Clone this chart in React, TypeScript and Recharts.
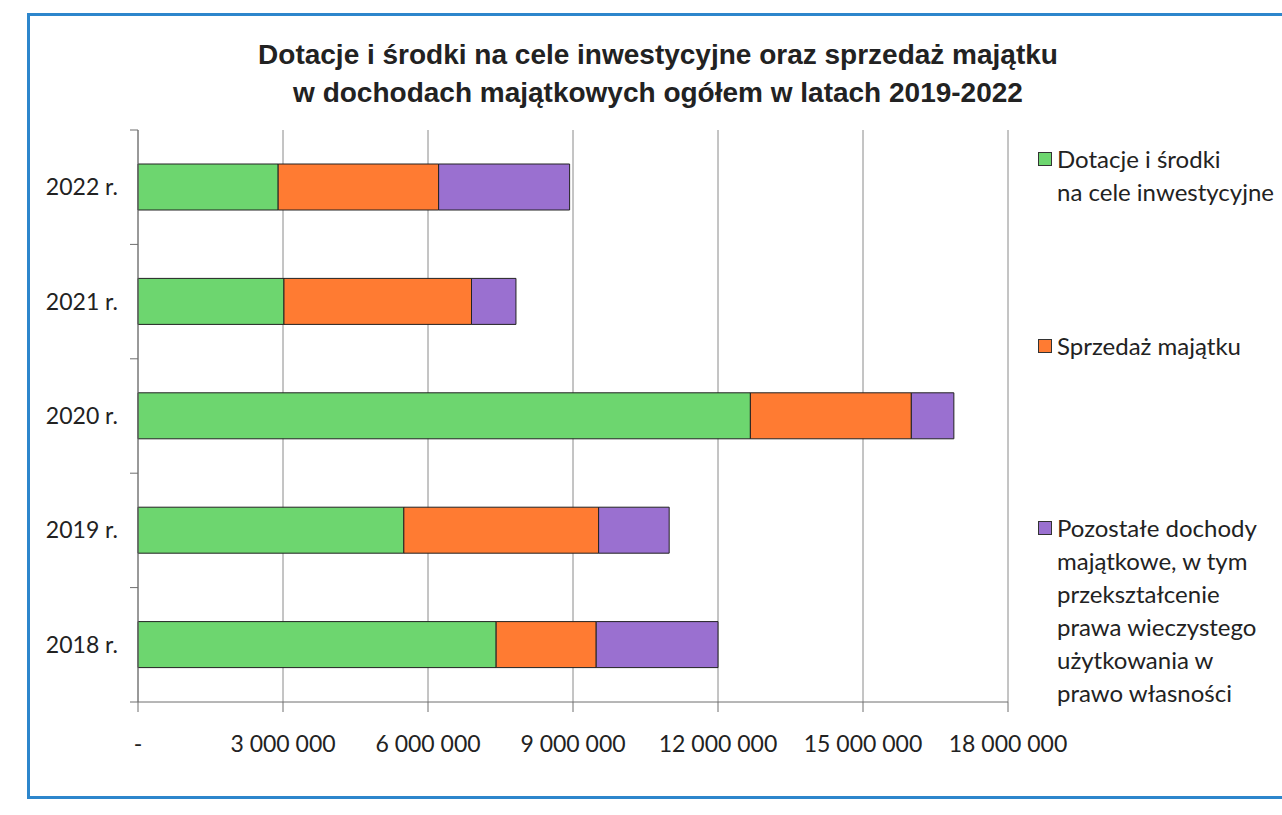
import React from 'react';
import { BarChart, Bar, XAxis, YAxis, CartesianGrid } from 'recharts';

const years = ['2022 r.', '2021 r.', '2020 r.', '2019 r.', '2018 r.'];
const dotacje = [2900000, 3020000, 12670000, 5500000, 7410000];
const sprzedaz = [3320000, 3880000, 3330000, 4030000, 2070000];
const pozostale = [2710000, 920000, 880000, 1460000, 2520000];
const xTicks = [0, 3000000, 6000000, 9000000, 12000000, 15000000, 18000000];

const seriesNames = [
  'Dotacje i środki na cele inwestycyjne',
  'Sprzedaż majątku',
  'Pozostałe dochody majątkowe, w tym przekształcenie prawa wieczystego użytkowania w prawo własności',
];

const data = years.map((year, i) => ({
  year,
  dotacje: dotacje[i],
  sprzedaz: sprzedaz[i],
  pozostale: pozostale[i],
}));

const GREEN = '#6dd66f';
const ORANGE = '#ff7b32';
const PURPLE = '#9a70d0';
const AXIS = '#6e6e6e';
const FONT = 'Lato, "Noto Sans", sans-serif';

const W = 1282;
const H = 815;
const PLOT_LEFT = 138;
const PLOT_TOP = 130;
const PLOT_BOTTOM = 702;
const BAND = (PLOT_BOTTOM - PLOT_TOP) / years.length;

function fmt(v: number) {
  if (v === 0) return '-';
  return String(v).replace(/\B(?=(\d{3})+(?!\d))/g, ' ');
}

function YTick(props: any) {
  const { y, payload, index } = props;
  const top = y - BAND / 2;
  return (
    <g>
      <line x1={PLOT_LEFT - 8} x2={PLOT_LEFT} y1={top} y2={top} stroke={AXIS} />
      {index === years.length - 1 && (
        <line x1={PLOT_LEFT - 8} x2={PLOT_LEFT} y1={y + BAND / 2} y2={y + BAND / 2} stroke={AXIS} />
      )}
      <text x={118} y={y} dy={8} textAnchor="end" fontSize={23} fill="#222" fontFamily={FONT}>
        {payload.value}
      </text>
    </g>
  );
}

function LegendBox({ color, lines, top }: { color: string; lines: string[]; top: number }) {
  return (
    <div style={{ position: 'absolute', left: 1038, top, fontFamily: FONT, fontSize: 24, color: '#222', lineHeight: '33px' }}>
      <span
        style={{
          position: 'absolute',
          left: 0,
          top: 10,
          width: 12,
          height: 12,
          background: color,
          border: '1px solid #333',
        }}
      />
      {lines.map((l, i) => (
        <div key={i} style={{ paddingLeft: 19, whiteSpace: 'nowrap' }}>
          {l}
        </div>
      ))}
    </div>
  );
}

export default function App() {
  return (
    <div style={{ position: 'absolute', left: 0, top: 0, width: W, height: H, background: '#fff', overflow: 'hidden' }}>
      <div
        style={{
          position: 'absolute',
          left: 27,
          top: 13,
          width: 1300,
          height: 786,
          border: '3px solid #2d86cc',
          boxSizing: 'border-box',
        }}
      />
      <div
        style={{
          position: 'absolute',
          left: 0,
          top: 36,
          width: 1316,
          textAlign: 'center',
          fontFamily: '"Liberation Sans", Arial, sans-serif',
          fontWeight: 'bold',
          fontSize: 28,
          lineHeight: '38px',
          color: '#222',
        }}
      >
        <div>Dotacje i środki na cele inwestycyjne oraz sprzedaż majątku</div>
        <div>w dochodach majątkowych ogółem w latach 2019-2022</div>
      </div>
      <div style={{ position: 'absolute', left: 0, top: 0 }}>
        <BarChart
          width={W}
          height={H}
          data={data}
          layout="vertical"
          margin={{ top: PLOT_TOP, right: 274, bottom: 63, left: 38 }}
        >
          <CartesianGrid horizontal={false} stroke="#8a8a8a" strokeWidth={1} />
          <XAxis
            type="number"
            domain={[0, 18000000]}
            ticks={xTicks}
            tickFormatter={fmt}
            stroke={AXIS}
            tickSize={10}
            tickMargin={24}
            height={50}
            tick={{ fontSize: 23, fill: '#222', fontFamily: FONT }}
            interval={0}
          />
          <YAxis
            type="category"
            dataKey="year"
            width={100}
            stroke={AXIS}
            tickLine={false}
            tick={<YTick />}
          />
          <Bar dataKey="dotacje" name={seriesNames[0]} stackId="a" fill={GREEN} stroke="#222" strokeWidth={1} barSize={46} isAnimationActive={false} />
          <Bar dataKey="sprzedaz" name={seriesNames[1]} stackId="a" fill={ORANGE} stroke="#222" strokeWidth={1} barSize={46} isAnimationActive={false} />
          <Bar dataKey="pozostale" name={seriesNames[2]} stackId="a" fill={PURPLE} stroke="#222" strokeWidth={1} barSize={46} isAnimationActive={false} />
        </BarChart>
      </div>
      <LegendBox color={GREEN} top={142} lines={['Dotacje i środki', 'na cele inwestycyjne']} />
      <LegendBox color={ORANGE} top={329} lines={['Sprzedaż majątku']} />
      <LegendBox
        color={PURPLE}
        top={511}
        lines={['Pozostałe dochody', 'majątkowe, w tym', 'przekształcenie', 'prawa wieczystego', 'użytkowania w', 'prawo własności']}
      />
    </div>
  );
}
